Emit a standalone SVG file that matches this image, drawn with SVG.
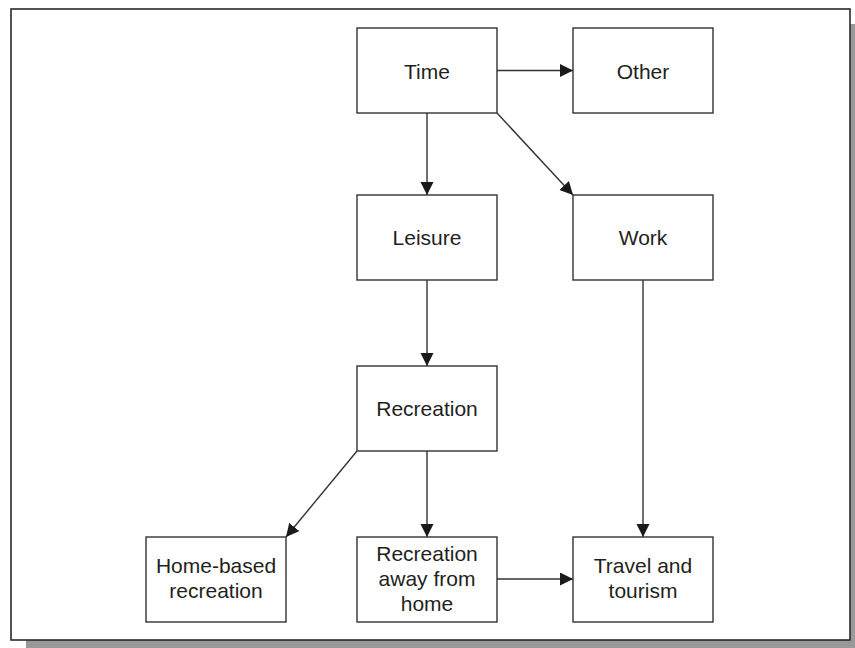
<svg xmlns="http://www.w3.org/2000/svg" width="855" height="648" viewBox="0 0 855 648">
<style>
.box{fill:#fff;stroke:#333;stroke-width:1.4}
.lbl{font-family:"Liberation Sans",Arial,sans-serif;font-size:21px;fill:#231f20;text-anchor:middle}
.con{stroke:#333;stroke-width:1.4;fill:none;marker-end:url(#ah)}
</style>
<defs>
<marker id="ah" markerUnits="userSpaceOnUse" markerWidth="14" markerHeight="14" refX="13" refY="6.5" orient="auto">
<path d="M0,0 L13,6.5 L0,13 z" fill="#1a1a1a"/>
</marker>
</defs>
<rect x="0" y="0" width="855" height="648" fill="#fff"/>
<rect x="26" y="24" width="840" height="640" fill="#999"/>
<rect x="11" y="9" width="839" height="631" fill="#fff" stroke="#2a2a2a" stroke-width="1.6"/>
<g id="connectors">
<line class="con" x1="497" y1="70.5" x2="573" y2="70.5"/>
<line class="con" x1="427" y1="113" x2="427" y2="195"/>
<line class="con" x1="497" y1="113" x2="573" y2="195"/>
<line class="con" x1="427" y1="280" x2="427" y2="366"/>
<line class="con" x1="357" y1="451" x2="286" y2="537"/>
<line class="con" x1="427" y1="451" x2="427" y2="537"/>
<line class="con" x1="643" y1="280" x2="643" y2="537"/>
<line class="con" x1="497" y1="579" x2="573" y2="579"/>
</g>
<g id="time"><rect class="box" x="357" y="28" width="140" height="85"/><text class="lbl" x="427" y="79">Time</text></g>
<g id="other"><rect class="box" x="573" y="28" width="140" height="85"/><text class="lbl" x="643" y="79">Other</text></g>
<g id="leisure"><rect class="box" x="357" y="195" width="140" height="85"/><text class="lbl" x="427" y="245">Leisure</text></g>
<g id="work"><rect class="box" x="573" y="195" width="140" height="85"/><text class="lbl" x="643" y="245">Work</text></g>
<g id="recreation"><rect class="box" x="357" y="366" width="140" height="85"/><text class="lbl" x="427" y="416">Recreation</text></g>
<g id="home-based"><rect class="box" x="146" y="537" width="140" height="85"/><text class="lbl" x="216" y="573">Home-based</text><text class="lbl" x="216" y="598">recreation</text></g>
<g id="away"><rect class="box" x="357" y="537" width="140" height="85"/><text class="lbl" x="427" y="561">Recreation</text><text class="lbl" x="427" y="586">away from</text><text class="lbl" x="427" y="611">home</text></g>
<g id="travel"><rect class="box" x="573" y="537" width="140" height="85"/><text class="lbl" x="643" y="573">Travel and</text><text class="lbl" x="643" y="598">tourism</text></g>
</svg>
